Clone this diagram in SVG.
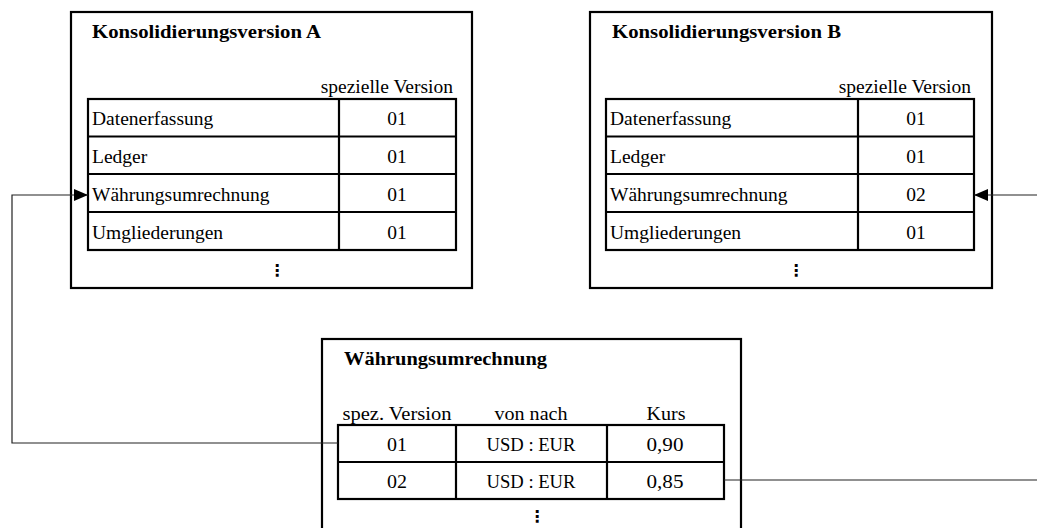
<svg xmlns="http://www.w3.org/2000/svg" width="1037" height="528" viewBox="0 0 1037 528">
  <defs>
    <marker id="arrow" viewBox="0 0 14 12" refX="14" refY="6" markerWidth="14" markerHeight="12" markerUnits="userSpaceOnUse" orient="auto">
      <path d="M0,0 L14,6 L0,12 z" fill="#000"/>
    </marker>
    <style>
      .frame { fill: #fff; stroke: #000; stroke-width: 2.2; }
      .grid { fill: none; stroke: #000; stroke-width: 2.2; }
      .conn { fill: none; stroke: #222; stroke-width: 1.2; }
      .title { font-family: "Liberation Serif", "Times New Roman", serif; font-weight: bold; font-size: 19px; fill: #000; }
      .cell { font-family: "Liberation Serif", "Times New Roman", serif; font-size: 19.5px; fill: #000; }
      .mid { text-anchor: middle; }
      .end { text-anchor: end; }
      .dots { font-family: "DejaVu Sans", sans-serif; font-weight: bold; font-size: 16px; text-anchor: middle; fill: #000; }
    </style>
  </defs>

  <!-- Version A -->
  <g id="konsolidierungsversion-a">
    <rect class="frame" x="71" y="12" width="401" height="276"/>
    <text class="title" x="92" y="38" textLength="229" lengthAdjust="spacingAndGlyphs">Konsolidierungsversion A</text>
    <text class="cell end" x="453" y="93">spezielle Version</text>
    <rect class="grid" x="88" y="99" width="368" height="151"/>
    <path class="grid" d="M88,136.5 H456 M88,174 H456 M88,212 H456 M339,99 V250"/>
    <text class="cell" x="92" y="125">Datenerfassung</text>
    <text class="cell" x="92" y="163">Ledger</text>
    <text class="cell" x="92" y="201">Währungsumrechnung</text>
    <text class="cell" x="92" y="239">Umgliederungen</text>
    <text class="cell mid" x="397" y="125">01</text>
    <text class="cell mid" x="397" y="163">01</text>
    <text class="cell mid" x="397" y="201">01</text>
    <text class="cell mid" x="397" y="239">01</text>
    <text class="dots" x="277" y="276">⋮</text>
  </g>

  <!-- Version B -->
  <g id="konsolidierungsversion-b">
    <rect class="frame" x="590" y="12" width="402" height="276"/>
    <text class="title" x="612" y="38" textLength="229" lengthAdjust="spacingAndGlyphs">Konsolidierungsversion B</text>
    <text class="cell end" x="971" y="93">spezielle Version</text>
    <rect class="grid" x="606" y="99" width="368" height="151"/>
    <path class="grid" d="M606,136.5 H974 M606,174 H974 M606,212 H974 M858,99 V250"/>
    <text class="cell" x="610" y="125">Datenerfassung</text>
    <text class="cell" x="610" y="163">Ledger</text>
    <text class="cell" x="610" y="201">Währungsumrechnung</text>
    <text class="cell" x="610" y="239">Umgliederungen</text>
    <text class="cell mid" x="916" y="125">01</text>
    <text class="cell mid" x="916" y="163">01</text>
    <text class="cell mid" x="916" y="201">02</text>
    <text class="cell mid" x="916" y="239">01</text>
    <text class="dots" x="796" y="276">⋮</text>
  </g>

  <!-- Currency translation table -->
  <g id="waehrungsumrechnung">
    <rect class="frame" x="322" y="339" width="419" height="200"/>
    <text class="title" x="344" y="365" font-size="20.5" textLength="203" lengthAdjust="spacingAndGlyphs">Währungsumrechnung</text>
    <text class="cell mid" x="397" y="420" font-size="21" textLength="109" lengthAdjust="spacingAndGlyphs">spez. Version</text>
    <text class="cell mid" x="531" y="420" font-size="21" textLength="73" lengthAdjust="spacingAndGlyphs">von nach</text>
    <text class="cell mid" x="666" y="420" font-size="21" textLength="39" lengthAdjust="spacingAndGlyphs">Kurs</text>
    <rect class="grid" x="338" y="425" width="386" height="74"/>
    <path class="grid" d="M338,462 H724 M456,425 V499 M607,425 V499"/>
    <text class="cell mid" x="397" y="451" font-size="21" textLength="20" lengthAdjust="spacingAndGlyphs">01</text>
    <text class="cell mid" x="531" y="451" font-size="21" textLength="89" lengthAdjust="spacingAndGlyphs">USD : EUR</text>
    <text class="cell mid" x="665" y="451" font-size="21" textLength="37" lengthAdjust="spacingAndGlyphs">0,90</text>
    <text class="cell mid" x="397" y="488" font-size="21" textLength="20" lengthAdjust="spacingAndGlyphs">02</text>
    <text class="cell mid" x="531" y="488" font-size="21" textLength="89" lengthAdjust="spacingAndGlyphs">USD : EUR</text>
    <text class="cell mid" x="665" y="488" font-size="21" textLength="37" lengthAdjust="spacingAndGlyphs">0,85</text>
    <text class="dots" x="537" y="522">⋮</text>
  </g>

  <!-- Connectors -->
  <g id="connectors">
    <path class="conn" d="M338,443 H12 V195 H88" marker-end="url(#arrow)"/>
    <path class="conn" d="M1037,195 H974" marker-end="url(#arrow)"/>
    <path class="conn" d="M724,480 H1037"/>
  </g>
</svg>
